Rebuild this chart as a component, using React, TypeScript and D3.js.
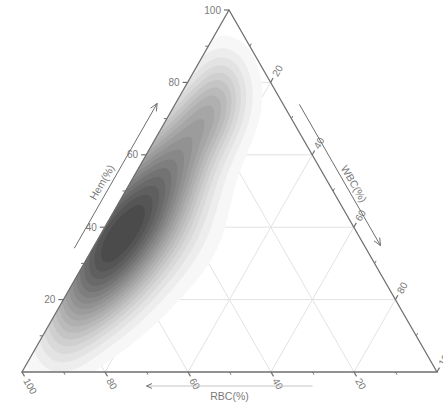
import React, { useMemo } from "react";
import * as d3 from "d3";

const WIDTH = 443;
const HEIGHT = 404;

// Ternary axis ticks (percent)
const majorTicks = [20, 40, 60, 80, 100];
const minorTicks = [10, 30, 50, 70, 90];
const gridValues = [20, 40, 60, 80];

// Density kernels: Hem %, WBC % (RBC = remainder)
const kernelHem = [3, 10, 18, 26, 34, 42, 50, 58, 66, 73, 80, 87, 40];
const kernelWbc = [6, 5, 4, 4, 4, 5, 6, 7, 8, 9, 8, 5, 16];
const kernelWeight = [0.07, 0.17, 0.33, 0.52, 0.64, 0.64, 0.55, 0.44, 0.4, 0.36, 0.21, 0.08, 0.06];
const kernelSpread = [5, 5.5, 6.5, 7.5, 8, 8, 7.5, 6.5, 6, 5.5, 5, 4.5, 9];

const LEVELS = 18;

// Triangle corners: RBC 100 (left), WBC 100 (right), Hem 100 (top)
const VA = { x: 22, y: 372 };
const VB = { x: 437, y: 372 };
const VC = { x: 229, y: 10 };

const frac = d3.scaleLinear().domain([0, 100]).range([0, 1]);

function pos(hem: number, wbc: number): [number, number] {
  const h = frac(hem);
  const w = frac(wbc);
  return [
    VA.x + w * (VB.x - VA.x) + h * (VC.x - VA.x),
    VA.y + w * (VB.y - VA.y) + h * (VC.y - VA.y),
  ];
}

const SIDE = VB.x - VA.x;
const AXIS = "#6f6f6f";
const TEXT = "#7a7a7a";
const FONT = "'Liberation Sans', Arial, sans-serif";
const TICK_FS = 10;
const TITLE_FS = 10.5;

function arrowHead(tip: [number, number], from: [number, number], len = 8, ang = 0.42) {
  const a = Math.atan2(from[1] - tip[1], from[0] - tip[0]);
  const p1 = [tip[0] + len * Math.cos(a + ang), tip[1] + len * Math.sin(a + ang)];
  const p2 = [tip[0] + len * Math.cos(a - ang), tip[1] + len * Math.sin(a - ang)];
  return `M${p1[0]},${p1[1]}L${tip[0]},${tip[1]}L${p2[0]},${p2[1]}`;
}

function offsetPt(p: [number, number], n: [number, number], d: number): [number, number] {
  return [p[0] + n[0] * d, p[1] + n[1] * d];
}

export default function App() {
  const contours = useMemo(() => {
    const step = 2;
    const nx = Math.ceil(WIDTH / step) + 1;
    const ny = Math.ceil(HEIGHT / step) + 1;
    const kernels = kernelHem.map((h, i) => {
      const [kx, ky] = pos(h, kernelWbc[i]);
      const s = (kernelSpread[i] / 100) * SIDE;
      return { kx, ky, w: kernelWeight[i], s2: 2 * s * s };
    });
    const values = new Float64Array(nx * ny);
    let max = 0;
    for (let j = 0; j < ny; j++) {
      for (let i = 0; i < nx; i++) {
        const x = i * step;
        const y = j * step;
        let v = 0;
        for (const k of kernels) {
          const dx = x - k.kx;
          const dy = y - k.ky;
          v += k.w * Math.exp(-(dx * dx + dy * dy) / k.s2);
        }
        values[j * nx + i] = v;
        if (v > max) max = v;
      }
    }
    for (let i = 0; i < values.length; i++) values[i] /= max;
    const lo = 0.04, hi = 0.93;
    const thresholds = d3.range(LEVELS).map((i) => lo + (i * (hi - lo)) / (LEVELS - 1));
    const gen = d3.contours().size([nx, ny]).thresholds(thresholds);
    const polys = gen(Array.from(values));
    const path = d3.geoPath(d3.geoIdentity().scale(step) as any);
    const color = d3
      .scaleLinear<string>()
      .domain([lo, hi])
      .range(["#f7f7f7", "#4b4b4b"])
      .interpolate(d3.interpolateRgb);
    return polys.map((p) => ({ d: path(p as any) || "", fill: color(p.value) }));
  }, []);

  const tri = `M${VA.x},${VA.y}L${VB.x},${VB.y}L${VC.x},${VC.y}Z`;

  // grid lines
  const gridLines: string[] = [];
  gridValues.forEach((v) => {
    const a1 = pos(v, 0), a2 = pos(v, 100 - v); // Hem const
    const b1 = pos(0, v), b2 = pos(100 - v, v); // WBC const
    const c1 = pos(0, 100 - v), c2 = pos(100 - v, 0); // RBC const
    gridLines.push(`M${a1}L${a2}`, `M${b1}L${b2}`, `M${c1}L${c2}`);
  });

  // tick directions
  const s60 = Math.sin(Math.PI / 3), c60 = 0.5;
  const dirLeft: [number, number] = [-1, 0];
  const dirBottom: [number, number] = [c60, s60];
  const dirRight: [number, number] = [c60, -s60];

  // outward normals to edges
  const lenL = Math.hypot(VC.x - VA.x, VC.y - VA.y);
  const uL: [number, number] = [(VC.x - VA.x) / lenL, (VC.y - VA.y) / lenL];
  const nL: [number, number] = [uL[1], -uL[0]];
  const lenR = Math.hypot(VB.x - VC.x, VB.y - VC.y);
  const uR: [number, number] = [(VB.x - VC.x) / lenR, (VB.y - VC.y) / lenR];
  const nR: [number, number] = [uR[1], -uR[0]];

  const hemA0 = offsetPt(pos(32, 0), nL, 16);
  const hemA1 = offsetPt(pos(72, 0), nL, 16);
  const hemT = offsetPt(pos(49, 0), nL, 21);
  const wbcA0 = offsetPt(pos(72, 28), nR, 14);
  const wbcA1 = offsetPt(pos(33, 67), nR, 14);
  const wbcT = offsetPt(pos(49, 51), nR, 18);
  const rbcA0: [number, number] = [pos(0, 30)[0], 386];
  const rbcA1: [number, number] = [pos(0, 70)[0], 386];

  return (
    <svg
      width={WIDTH}
      height={HEIGHT}
      style={{ position: "absolute", left: 0, top: 0, background: "#fff" }}
      fontFamily={FONT}
    >
      <defs>
        <clipPath id="tri">
          <path d={tri} />
        </clipPath>
      </defs>
      <rect width={WIDTH} height={HEIGHT} fill="#fff" />
      <g clipPath="url(#tri)">
        {gridLines.map((d, i) => (
          <path key={i} d={d} stroke="#e2e2e2" strokeWidth={1} fill="none" />
        ))}
        {contours.map((c, i) => (
          <path key={i} d={c.d} fill={c.fill} stroke="none" />
        ))}
      </g>
      <path d={tri} fill="none" stroke={AXIS} strokeWidth={1.3} strokeLinejoin="miter" />

      {/* Left axis: Hem */}
      {majorTicks.map((v) => {
        const p = pos(v, 0);
        const e = offsetPt(p, dirLeft, 5);
        const t = offsetPt(p, dirLeft, 8);
        return (
          <g key={`h${v}`}>
            <line x1={p[0]} y1={p[1]} x2={e[0]} y2={e[1]} stroke={AXIS} strokeWidth={1.2} />
            <text x={t[0]} y={t[1]} dy="0.35em" textAnchor="end" fontSize={TICK_FS} fill={TEXT}>
              {v}
            </text>
          </g>
        );
      })}
      {minorTicks.map((v) => {
        const p = pos(v, 0);
        const e = offsetPt(p, dirLeft, 3);
        return <line key={`hm${v}`} x1={p[0]} y1={p[1]} x2={e[0]} y2={e[1]} stroke={AXIS} strokeWidth={1} />;
      })}

      {/* Bottom axis: RBC */}
      {majorTicks.map((v) => {
        const p = pos(0, 100 - v);
        const e = offsetPt(p, dirBottom, 5);
        const t = offsetPt(p, dirBottom, 8);
        return (
          <g key={`r${v}`}>
            <line x1={p[0]} y1={p[1]} x2={e[0]} y2={e[1]} stroke={AXIS} strokeWidth={1.2} />
            <text
              x={t[0]}
              y={t[1]}
              dy="0.35em"
              textAnchor="start"
              fontSize={TICK_FS}
              fill={TEXT}
              transform={`rotate(60 ${t[0]} ${t[1]})`}
            >
              {v}
            </text>
          </g>
        );
      })}
      {minorTicks.map((v) => {
        const p = pos(0, 100 - v);
        const e = offsetPt(p, dirBottom, 3);
        return <line key={`rm${v}`} x1={p[0]} y1={p[1]} x2={e[0]} y2={e[1]} stroke={AXIS} strokeWidth={1} />;
      })}

      {/* Right axis: WBC */}
      {majorTicks.map((v) => {
        const p = pos(100 - v, v);
        const e = offsetPt(p, dirRight, 5);
        const t = offsetPt(p, dirRight, 8);
        return (
          <g key={`w${v}`}>
            <line x1={p[0]} y1={p[1]} x2={e[0]} y2={e[1]} stroke={AXIS} strokeWidth={1.2} />
            <text
              x={t[0]}
              y={t[1]}
              dy="0.35em"
              textAnchor="start"
              fontSize={TICK_FS}
              fill={TEXT}
              transform={`rotate(-60 ${t[0]} ${t[1]})`}
            >
              {v}
            </text>
          </g>
        );
      })}
      {minorTicks.map((v) => {
        const p = pos(100 - v, v);
        const e = offsetPt(p, dirRight, 3);
        return <line key={`wm${v}`} x1={p[0]} y1={p[1]} x2={e[0]} y2={e[1]} stroke={AXIS} strokeWidth={1} />;
      })}

      {/* Axis titles with arrows */}
      <g stroke={AXIS} strokeWidth={1} fill="none">
        <line x1={hemA0[0]} y1={hemA0[1]} x2={hemA1[0]} y2={hemA1[1]} />
        <path d={arrowHead(hemA1, hemA0)} />
        <line x1={wbcA0[0]} y1={wbcA0[1]} x2={wbcA1[0]} y2={wbcA1[1]} />
        <path d={arrowHead(wbcA1, wbcA0)} />
        <line x1={rbcA0[0]} y1={rbcA0[1]} x2={rbcA1[0]} y2={rbcA1[1]} stroke="#c4c4c4" />
        <path d={arrowHead(rbcA0, rbcA1, 6)} />
      </g>
      <text
        x={hemT[0]}
        y={hemT[1]}
        textAnchor="middle"
        fontSize={TITLE_FS}
        fill={TEXT}
        transform={`rotate(-60 ${hemT[0]} ${hemT[1]})`}
      >
        Hem(%)
      </text>
      <text
        x={wbcT[0]}
        y={wbcT[1]}
        textAnchor="middle"
        fontSize={TITLE_FS}
        fill={TEXT}
        transform={`rotate(60 ${wbcT[0]} ${wbcT[1]})`}
      >
        WBC(%)
      </text>
      <text x={pos(0, 50)[0]} y={400} textAnchor="middle" fontSize={TITLE_FS} fill={TEXT}>
        RBC(%)
      </text>
    </svg>
  );
}
